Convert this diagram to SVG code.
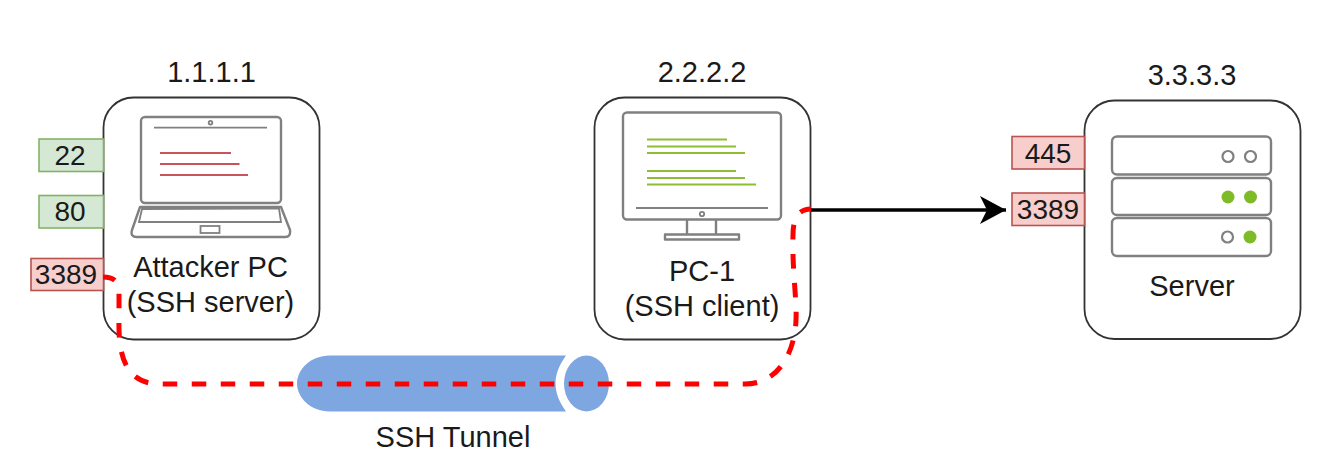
<svg xmlns="http://www.w3.org/2000/svg" width="1338" height="474" viewBox="0 0 1338 474">
<defs>
<style>
text{font-family:"Liberation Sans",Arial,sans-serif;fill:#1a1a1a;text-anchor:middle}
.t{font-size:29px}
.p{font-size:28px}
.box{fill:#fff;stroke:#333;stroke-width:1.8}
.g{fill:#d5e8d4;stroke:#82b366;stroke-width:1.6}
.r{fill:#f8cecc;stroke:#b85450;stroke-width:1.6}
.ic{fill:#fff;stroke:#808080;stroke-width:2.4;stroke-linejoin:round}
.thin{stroke:#808080;stroke-width:1.8;fill:none}
.rl{stroke:#c8535a;stroke-width:1.8;fill:none}
.gl{stroke:#8cbd33;stroke-width:2.2;fill:none}
.led{fill:#fff;stroke:#808080;stroke-width:2.2}
.on{fill:#7fba27}
</style>
<marker id="arr" markerUnits="userSpaceOnUse" markerWidth="28" markerHeight="30" refX="26" refY="14" orient="auto"><path d="M0 0L26 14L0 28L7 14Z" fill="#000"/></marker>
</defs>
<g id="attacker">
<rect class="box" x="103.500" y="97.500" width="216" height="242" rx="30"/>
<g id="laptop">
<rect class="ic" x="141" y="117" width="140" height="86" rx="4"/>
<circle class="thin" cx="210.500" cy="122.700" r="1.800" stroke-width="1"/>
<path class="thin" d="M154 127.700H267"/>
<path class="rl" d="M160 153H231M160 164H239.500M160 175H248"/>
<path class="ic" d="M140 207H281L290 230Q291 237 285 237H137Q130 237 132 230Z"/>
<path class="thin" d="M142 209L279 208.500L281 222H139Z"/>
<rect class="thin" x="200.500" y="226" width="19" height="7"/>
</g>
<text class="t" x="210.500" y="277">Attacker PC</text>
<text class="t" x="210.500" y="312">(SSH server)</text>
<text class="t" x="211.500" y="82">1.1.1.1</text>
</g>
<g id="pc1">
<rect class="box" x="594.500" y="97.500" width="216" height="242" rx="30"/>
<g id="monitor">
<rect class="ic" x="623" y="112.500" width="158" height="107" rx="4"/>
<path class="thin" d="M636 208H768"/>
<circle class="thin" cx="702" cy="214" r="2.200" stroke-width="1"/>
<path class="ic" d="M687 220V234M716 220V234" fill="none"/>
<rect class="ic" x="665" y="234.500" width="74" height="5"/>
<path class="gl" d="M647 139.500H727M647 146.500H736M647 153H745M647 171H736M647 178H745M647 184.500H756"/>
</g>
<text class="t" x="702" y="281">PC-1</text>
<text class="t" x="702" y="316">(SSH client)</text>
<text class="t" x="702" y="82">2.2.2.2</text>
</g>
<g id="server">
<rect class="box" x="1084.500" y="100.500" width="216" height="238.500" rx="30"/>
<rect class="ic" x="1112" y="136.500" width="159" height="38" rx="5"/>
<rect class="ic" x="1112" y="178" width="159" height="37" rx="5"/>
<rect class="ic" x="1112" y="218" width="159" height="38" rx="5"/>
<circle class="led" cx="1228" cy="156.500" r="5.500"/>
<circle class="led" cx="1250.500" cy="156.500" r="5.500"/>
<circle class="on" cx="1228" cy="197" r="6.500"/>
<circle class="on" cx="1250.500" cy="197" r="6.500"/>
<circle class="led" cx="1227.500" cy="237" r="5.500"/>
<circle class="on" cx="1250" cy="237" r="6.500"/>
<text class="t" x="1192" y="296">Server</text>
<text class="t" x="1192" y="85">3.3.3.3</text>
</g>
<g id="port-22"><rect class="g" x="39" y="139" width="64.500" height="32.500"/><text class="p" x="70" y="165">22</text></g>
<g id="port-80"><rect class="g" x="39" y="195.500" width="64.500" height="32.500"/><text class="p" x="70" y="221">80</text></g>
<g id="port-3389a"><rect class="r" x="31" y="258.500" width="72.500" height="32"/><text class="p" x="66" y="284">3389</text></g>
<g id="port-445"><rect class="r" x="1012" y="136.500" width="72.500" height="32.500"/><text class="p" x="1048" y="163">445</text></g>
<g id="port-3389b"><rect class="r" x="1012" y="193" width="72.500" height="32.500"/><text class="p" x="1048" y="218.500">3389</text></g>
<g id="tunnel">
<path d="M566 355.500H330C310 355.500 297 370 297 383.500C297 397 310 411.500 330 411.500H566C552 392 552 375 566 355.500Z" fill="#7ea6e0"/>
<ellipse cx="586.500" cy="383.500" rx="22.500" ry="28" fill="#7ea6e0"/>
<text class="t" x="453" y="447">SSH Tunnel</text>
</g>
<g id="connectors" fill="none">
<path d="M103 277C112 277 119 280 119 292V320C118 360 128 384 160 384H745C780 384 795 350 796 320C797 300 792 270 793 235C793 216 800 209 811 209" stroke="#f00" stroke-width="5" stroke-dasharray="14.500 14.500" stroke-dashoffset="2"/>
<path d="M811 210H1006" stroke="#000" stroke-width="3.600" marker-end="url(#arr)"/>
</g>
</svg>
